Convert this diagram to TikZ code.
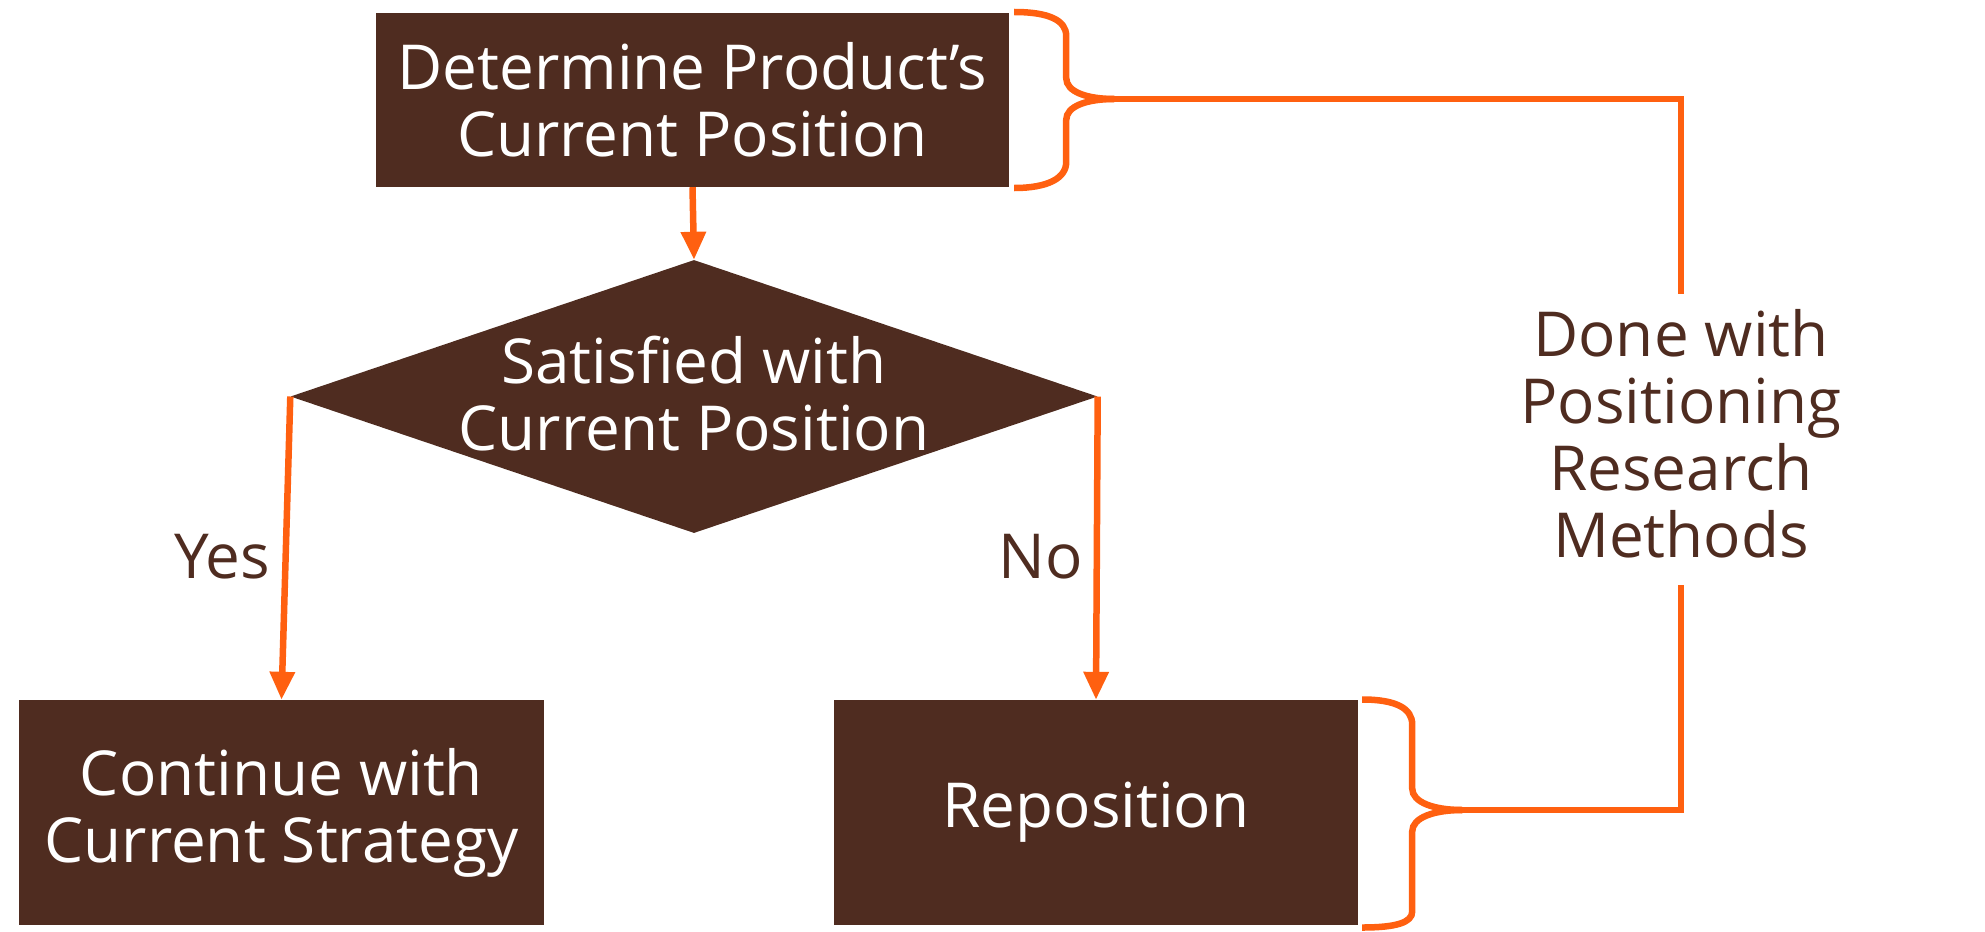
\documentclass[tikz,border=0pt]{standalone}
\usepackage{fontspec}
\setmainfont{Open Sans}
\usetikzlibrary{shapes.geometric,arrows.meta}
\definecolor{brn}{HTML}{4F2C20}
\definecolor{org}{HTML}{FF6010}
\begin{document}
\begin{tikzpicture}[x=1pt,y=-1pt,
  box/.style={fill=brn, text=white, inner sep=0pt, align=center, font=\fontsize{62}{67}\selectfont},
  conn/.style={draw=org, line width=6.5pt},
  arr/.style={conn, -{Triangle[length=28pt,width=24pt]}},
  lbl/.style={text=brn, align=center, inner sep=0pt, font=\fontsize{62}{67}\selectfont}]
\useasboundingbox (0,0) rectangle (1985,931);
% boxes
\node[box, minimum width=633pt, minimum height=174pt] (top) at (692.5,100) {Determine Product’s\\Current Position};
\node[diamond, fill=brn, inner sep=0pt, minimum width=807pt, minimum height=273pt, aspect=2.96] (dia) at (694,396.5) {};
\node[box, fill=none] (diat) at (694,394) {Satisfied with\\Current Position};
\node[box, minimum width=525pt, minimum height=225pt] (cont) at (281.5,812.5) {Continue with\\Current Strategy};
\node[box, minimum width=524pt, minimum height=225pt] (repo) at (1096,812.5) {Reposition};
% labels
\node[lbl] (yes) at (222,557) {Yes};
\node[lbl] (no) at (1041,557) {No};
\node[lbl] (side) at (1681,434) {Done with\\Positioning\\Research\\Methods};
% arrows
\draw[arr] (top.south) -- (dia.north);
\draw[arr] (dia.west) -- (cont.north);
\draw[arr] (dia.east) -- (repo.north);
% top brace
\begin{scope}[shift={(top.east)}]
  \coordinate (tip1) at (105,-1);
  \draw[conn] (5,-88) .. controls (39,-88) and (57,-80) .. (57,-64) -- (57,-22)
     .. controls (57,-8) and (78,-1) .. (tip1);
  \draw[conn] (tip1) .. controls (78,-1) and (57,6) .. (57,20) -- (57,62)
     .. controls (57,78) and (39,88) .. (5,88);
\end{scope}
% bottom brace
\begin{scope}[shift={(repo.east)}]
  \coordinate (tip2) at (104,-2.5);
  \draw[conn] (4,-113) .. controls (38,-113) and (54,-104) .. (54,-88) -- (54,-24)
     .. controls (54,-10) and (76,-2.5) .. (tip2);
  \draw[conn] (tip2) .. controls (76,-2.5) and (54,5) .. (54,19) -- (54,99)
     .. controls (54,110) and (38,115) .. (4,115);
\end{scope}
% loop
\coordinate (up) at (1681,294);
\coordinate (dn) at (1681,585);
\draw[conn] (tip1) -| (up);
\draw[conn] (dn) |- (tip2);
\end{tikzpicture}
\end{document}
